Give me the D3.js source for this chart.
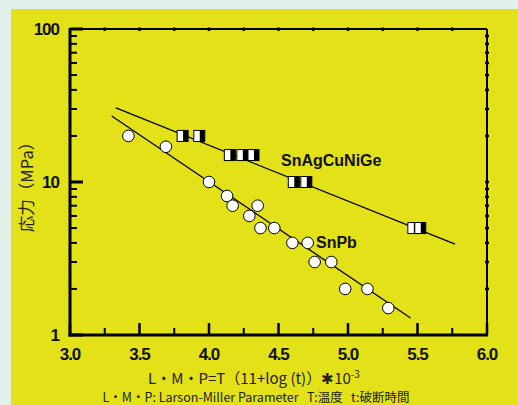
<!DOCTYPE html>
<html><head><meta charset="utf-8">
<script src="https://cdn.jsdelivr.net/npm/d3@7"></script>
<style>
html,body{margin:0;padding:0;background:#e1f1ea;}
svg{display:block;}
text{white-space:pre;}
</style></head>
<body>
<svg id="c" width="518" height="405"></svg>
<script>
// Data
const snpbX = [3.42,3.69,4.00,4.13,4.17,4.29,4.35,4.37,4.47,4.60,4.71,4.76,4.88,4.98,5.14,5.29];
const snpbY = [20,17,10,8.1,7.0,6.0,7.0,5.0,5.0,4.0,4.0,3.0,3.0,2.0,2.0,1.5];
const sacX = [3.81,3.93,4.15,4.24,4.32,4.61,4.70,5.47,5.52];
const sacY = [20,20,15,15,15,10,10,5,5];
const snpbFitX = [3.30,5.45];
const snpbFitY = [27,1.29];
const sacFitX = [3.33,5.77];
const sacFitY = [30.5,3.93];
const xTicks = [3.0,3.5,4.0,4.5,5.0,5.5,6.0];
const xTickLabels = ["3.0","3.5","4.0","4.5","5.0","5.5","6.0"];
const yTicks = [1,10,100];
const yTickLabels = ["1","10","100"];

const svg = d3.select("#c");
svg.append("rect").attr("x",11).attr("y",9).attr("width",507).attr("height",396).attr("fill","#e3e117");

const x = d3.scaleLinear().domain([3,6]).range([70,487]);
const y = d3.scaleLog().domain([1,100]).range([335,29]);

const minorY = [];
[1,10].forEach(d=>{for(let k=2;k<=9;k++) minorY.push(d*k);});
const minorX = d3.range(3.25,6,0.5);
const allX = d3.range(3.25,6.0,0.25);

const g = svg.append("g");

// frame top & right
g.append("line").attr("x1",x(3)).attr("x2",x(6)).attr("y1",y(100)).attr("y2",y(100)).attr("stroke","#000").attr("stroke-width",2);
g.append("line").attr("x1",x(6)).attr("x2",x(6)).attr("y1",y(100)).attr("y2",y(1)).attr("stroke","#000").attr("stroke-width",2);
allX.forEach(v=>{
  g.append("line").attr("x1",x(v)).attr("x2",x(v)).attr("y1",y(100)-1.5).attr("y2",y(100)+2).attr("stroke","#000").attr("stroke-width",2.5);
});
minorY.concat([10]).forEach(v=>{
  g.append("line").attr("x1",x(6)-2).attr("x2",x(6)+2).attr("y1",y(v)).attr("y2",y(v)).attr("stroke","#000").attr("stroke-width",2.5);
});

// left axis
g.append("line").attr("x1",x(3)).attr("x2",x(3)).attr("y1",y(100)-1).attr("y2",y(1)+1.5).attr("stroke","#000").attr("stroke-width",3);
yTicks.forEach(v=>{
  g.append("line").attr("x1",x(3)).attr("x2",x(3)+13).attr("y1",y(v)).attr("y2",y(v)).attr("stroke","#000").attr("stroke-width",3);
});
minorY.forEach(v=>{
  g.append("line").attr("x1",x(3)).attr("x2",x(3)+7).attr("y1",y(v)).attr("y2",y(v)).attr("stroke","#000").attr("stroke-width",2);
});
// bottom axis
g.append("line").attr("x1",x(3)-1.5).attr("x2",x(6)+1).attr("y1",y(1)).attr("y2",y(1)).attr("stroke","#000").attr("stroke-width",3);
xTicks.forEach(v=>{
  g.append("line").attr("x1",x(v)).attr("x2",x(v)).attr("y1",y(1)).attr("y2",y(1)-12).attr("stroke","#000").attr("stroke-width",2.5);
});
minorX.forEach(v=>{
  g.append("line").attr("x1",x(v)).attr("x2",x(v)).attr("y1",y(1)).attr("y2",y(1)-7).attr("stroke","#000").attr("stroke-width",2);
});

// tick labels
const tf = "'Liberation Sans', Arial, sans-serif";
xTicks.forEach((v,i)=>{
  svg.append("text").attr("x",x(v)).attr("y",360).attr("text-anchor","middle")
    .attr("font-family",tf).attr("font-weight","bold").attr("font-size",17).attr("letter-spacing","-1")
    .attr("fill","#111").text(xTickLabels[i]);
});
yTicks.forEach((v,i)=>{
  svg.append("text").attr("x",59).attr("y",y(v)+6).attr("text-anchor","end")
    .attr("font-family",tf).attr("font-weight","bold").attr("font-size",17).attr("letter-spacing","-1")
    .attr("fill","#111").text(yTickLabels[i]);
});

// fit lines
const line = d3.line().x(d=>x(d[0])).y(d=>y(d[1]));
g.append("path").attr("d",line(d3.zip(snpbFitX,snpbFitY))).attr("stroke","#000").attr("stroke-width",1.3).attr("fill","none");
g.append("path").attr("d",line(d3.zip(sacFitX,sacFitY))).attr("stroke","#000").attr("stroke-width",1.3).attr("fill","none");

// circles
g.selectAll("circle.pb").data(d3.zip(snpbX,snpbY)).join("circle")
  .attr("cx",d=>x(d[0])).attr("cy",d=>y(d[1])).attr("r",5.8)
  .attr("fill","#fff").attr("stroke","#000").attr("stroke-width",1);

// squares
const sq = g.selectAll("g.sq").data(d3.zip(sacX,sacY)).join("g")
  .attr("transform",d=>`translate(${x(d[0])},${y(d[1])})`);
sq.append("rect").attr("x",-5.5).attr("y",-5.5).attr("width",11).attr("height",11).attr("fill","#fff").attr("stroke","#000").attr("stroke-width",1);
sq.append("rect").attr("x",0.5).attr("y",-5.5).attr("width",5).attr("height",11).attr("fill","#000");

// series labels
svg.append("text").attr("x",281).attr("y",166).attr("font-family",tf).attr("font-weight","bold").attr("font-size",16).attr("fill","#111").text("SnAgCuNiGe");
svg.append("text").attr("x",316).attr("y",248).attr("font-family",tf).attr("font-weight","bold").attr("font-size",16).attr("fill","#111").text("SnPb");

// axis titles
const xt = svg.append("text").attr("x",254).attr("y",384).attr("text-anchor","middle")
  .attr("font-family","'Noto Sans CJK JP', sans-serif").attr("font-size",15).attr("fill","#222");
xt.append("tspan").text("L・M・P=T（11+log (t)）✱10");
xt.append("tspan").attr("dy",-6).attr("font-size",10).text("-3");

svg.append("text").attr("x",256).attr("y",402).attr("text-anchor","middle")
  .attr("font-family","'Noto Sans CJK JP', sans-serif").attr("font-size",12.5).attr("fill","#222")
  .text("L・M・P: Larson-Miller Parameter   T:温度   t:破断時間");

svg.append("text").attr("transform","translate(33,183) rotate(-90)").attr("text-anchor","middle")
  .attr("font-family","'Noto Sans CJK JP', sans-serif").attr("font-size",16.5).attr("fill","#222")
  .text("応力（MPa）");
</script>
</body></html>
